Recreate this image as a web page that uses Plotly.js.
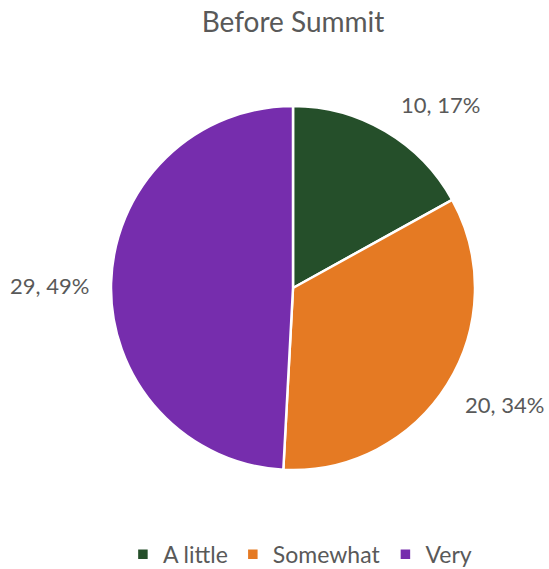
<!DOCTYPE html>
<html>
<head>
<meta charset="utf-8">
<script src="https://cdn.plot.ly/plotly-3.0.1.min.js"></script>
<style>html,body{margin:0;padding:0;background:#fff;}#chart{width:549px;height:569px;}</style>
</head>
<body>
<div id="chart"></div>
<script>
const labels = ["A little", "Somewhat", "Very"];
const values = [10, 20, 29];
const colors = ["#254F2A", "#E57A23", "#762DAD"];
const labelPos = [[0.904, 1.005], [1.082, 0.179], [-0.168, 0.508]];

const total = values.reduce((a, b) => a + b, 0);
const annotations = values.map((v, i) => ({
  text: v + ", " + Math.round(100 * v / total) + "%",
  x: labelPos[i][0], y: labelPos[i][1], xref: "paper", yref: "paper",
  xanchor: "center", yanchor: "middle", showarrow: false,
  font: {size: 22, color: "#595959"}
}));

const data = [{
  type: "pie",
  labels: labels,
  values: values,
  sort: false,
  direction: "clockwise",
  rotation: 0,
  marker: {colors: colors, line: {color: "#ffffff", width: 2.5}},
  textinfo: "none",
  hoverinfo: "label+value+percent"
}];

const layout = {
  width: 549, height: 569,
  margin: {l: 111, r: 74, t: 106, b: 99},
  paper_bgcolor: "#ffffff",
  font: {family: "Lato, 'Open Sans', sans-serif", color: "#595959", size: 22},
  title: {text: "Before Summit", font: {size: 28, color: "#595959"}, x: 0.5, xref: "paper", y: 0.961, yref: "container", yanchor: "middle"},
  showlegend: true,
  legend: {orientation: "h", x: 0.519, xref: "paper", xanchor: "center", y: 0.026, yref: "container", yanchor: "middle", font: {size: 23, color: "#595959"}, itemwidth: 30, traceorder: "normal"},
  annotations: annotations
};

Plotly.newPlot("chart", data, layout, {displayModeBar: false, staticPlot: true});
</script>
</body>
</html>
